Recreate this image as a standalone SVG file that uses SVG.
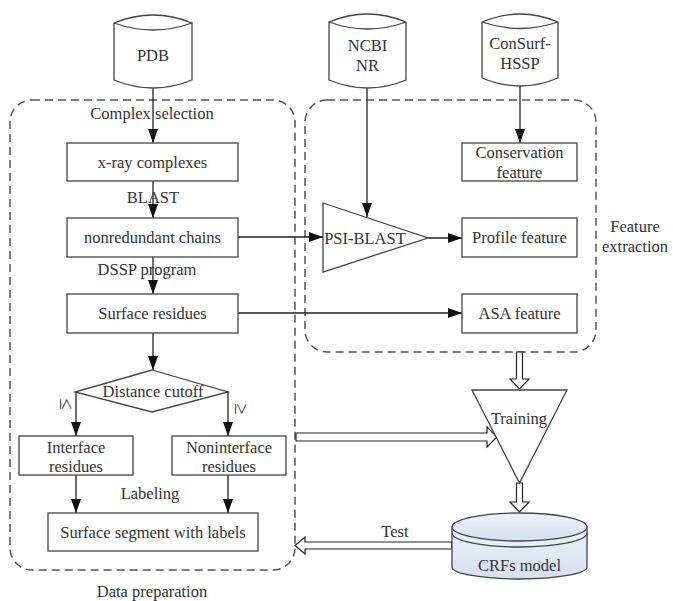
<svg xmlns="http://www.w3.org/2000/svg" width="673" height="601" viewBox="0 0 673 601">
<defs>
<marker id="ah" markerUnits="userSpaceOnUse" markerWidth="16" markerHeight="12" refX="14" refY="5" orient="auto">
<path d="M0,0 L14,5 L0,10 Z" fill="#111"/>
</marker>
<linearGradient id="crf" x1="0" y1="0" x2="0" y2="1">
<stop offset="0" stop-color="#eef2fa"/>
<stop offset="1" stop-color="#d5dff0"/>
</linearGradient>
</defs>
<style>
text{font-family:"Liberation Serif","Times New Roman",serif;font-size:16.5px;fill:#333;text-anchor:middle}
.sym{font-size:20px}
.box{fill:#fff;stroke:#444;stroke-width:1.3}
.cyl{fill:#fff;stroke:#444;stroke-width:1.3}
.dash{fill:none;stroke:#555;stroke-width:1.5;stroke-dasharray:8 5}
.ln{fill:none;stroke:#222;stroke-width:1.3}
.hol{fill:#fff;stroke:#222;stroke-width:1.2}
</style>
<rect width="673" height="601" fill="#fff"/>

<g id="group-data-preparation">
<rect class="dash" x="10" y="100" width="285" height="470" rx="22" ry="22"/>
<text x="152" y="597">Data preparation</text>
</g>
<g id="group-feature-extraction">
<rect class="dash" x="305" y="100" width="291" height="252" rx="22" ry="22"/>
<text x="635" y="232">Feature</text>
<text x="635" y="252">extraction</text>
</g>

<g id="connectors">
<path class="ln" d="M153,88 V143" marker-end="url(#ah)"/>
<path class="ln" d="M153,181 V218" marker-end="url(#ah)"/>
<path class="ln" d="M153,257 V294" marker-end="url(#ah)"/>
<path class="ln" d="M153,333 V370" marker-end="url(#ah)"/>
<path class="ln" d="M76,392 V436" marker-end="url(#ah)"/>
<path class="ln" d="M228,392 V436" marker-end="url(#ah)"/>
<path class="ln" d="M76,475 V513" marker-end="url(#ah)"/>
<path class="ln" d="M228,475 V513" marker-end="url(#ah)"/>
<path class="ln" d="M238,237 H323" marker-end="url(#ah)"/>
<path class="ln" d="M367,88 V217" marker-end="url(#ah)"/>
<path class="ln" d="M520,86 V143" marker-end="url(#ah)"/>
<path class="ln" d="M428,238 H462" marker-end="url(#ah)"/>
<path class="ln" d="M238,313 H462" marker-end="url(#ah)"/>
<polygon class="hol" points="516.5,352 522.5,352 522.5,379 529,379 519.5,389 510,379 516.5,379"/>
<polygon class="hol" points="296,433 487,433 487,427 497,437 487,447 487,441 296,441"/>
<polygon class="hol" points="516.5,483 522.5,483 522.5,502 529,502 519.5,512 510,502 516.5,502"/>
<polygon class="hol" points="452,542 305,542 305,537 295,545.5 305,554 305,549 452,549"/>
<text x="152" y="119">Complex selection</text>
<text x="153" y="203">BLAST</text>
<text x="147" y="275">DSSP program</text>
<text x="150" y="499">Labeling</text>
<text x="395" y="537">Test</text>
<text class="sym" transform="translate(66,404) rotate(90)" y="6">≤</text>
<text class="sym" transform="translate(241,409) rotate(90)" y="6">≥</text>
</g>

<g id="node-pdb">
<path class="cyl" d="M114,23 Q153,7 192,23 V80 Q153,96 114,80 Z"/>
<path class="cyl" d="M114,23 Q153,37 192,23" fill="none"/>
<text x="153" y="61">PDB</text>
</g>
<g id="node-ncbi">
<path class="cyl" d="M329,22 Q367.5,6 406,22 V80 Q367.5,96 329,80 Z"/>
<path class="cyl" d="M329,22 Q367.5,36 406,22" fill="none"/>
<text x="367.5" y="51">NCBI</text>
<text x="367.5" y="71">NR</text>
</g>
<g id="node-consurf">
<path class="cyl" d="M482,22 Q520,6 558,22 V78 Q520,94 482,78 Z"/>
<path class="cyl" d="M482,22 Q520,35 558,22" fill="none"/>
<text x="520" y="49">ConSurf-</text>
<text x="520" y="69">HSSP</text>
</g>

<g id="node-xray">
<rect class="box" x="67" y="143" width="171" height="38"/>
<text x="152.5" y="168">x-ray complexes</text>
</g>
<g id="node-nonredundant">
<rect class="box" x="67" y="218" width="171" height="39"/>
<text x="152.5" y="243">nonredundant chains</text>
</g>
<g id="node-surface">
<rect class="box" x="67" y="294" width="171" height="39"/>
<text x="152.5" y="319">Surface residues</text>
</g>
<g id="node-distance">
<polygon class="box" points="152,370 228,392 152,412 75,392"/>
<text x="153" y="397">Distance cutoff</text>
</g>
<g id="node-interface">
<rect class="box" x="19" y="436" width="114" height="39"/>
<text x="76" y="453">Interface</text>
<text x="76" y="472">residues</text>
</g>
<g id="node-noninterface">
<rect class="box" x="172" y="436" width="114" height="39"/>
<text x="229" y="453">Noninterface</text>
<text x="229" y="472">residues</text>
</g>
<g id="node-segment">
<rect class="box" x="48" y="513" width="210" height="38"/>
<text x="153" y="538">Surface segment with labels</text>
</g>

<g id="node-conservation">
<rect class="box" x="462" y="143" width="115" height="38"/>
<text x="519.5" y="158">Conservation</text>
<text x="519.5" y="178">feature</text>
</g>
<g id="node-psiblast">
<polygon class="box" points="323,203 428,238 323,272"/>
<text x="365" y="244">PSI-BLAST</text>
</g>
<g id="node-profile">
<rect class="box" x="462" y="218" width="115" height="39"/>
<text x="519.5" y="243">Profile feature</text>
</g>
<g id="node-asa">
<rect class="box" x="462" y="294" width="115" height="39"/>
<text x="519.5" y="319">ASA feature</text>
</g>

<g id="node-training">
<polygon class="box" points="472,390 567,390 519.5,483"/>
<text x="519" y="424">Training</text>
</g>
<g id="node-crf">
<path d="M452,527 V567 A67.5,12 0 0 0 587,567 V527 Z" fill="url(#crf)" stroke="#444" stroke-width="1.3"/>
<ellipse cx="519.5" cy="527" rx="67.5" ry="14" fill="url(#crf)" stroke="#444" stroke-width="1.3"/>
<path d="M452,533 A67.5,14 0 0 0 587,533" fill="none" stroke="#444" stroke-width="1.3"/>
<text x="519.5" y="571">CRFs model</text>
</g>
</svg>
